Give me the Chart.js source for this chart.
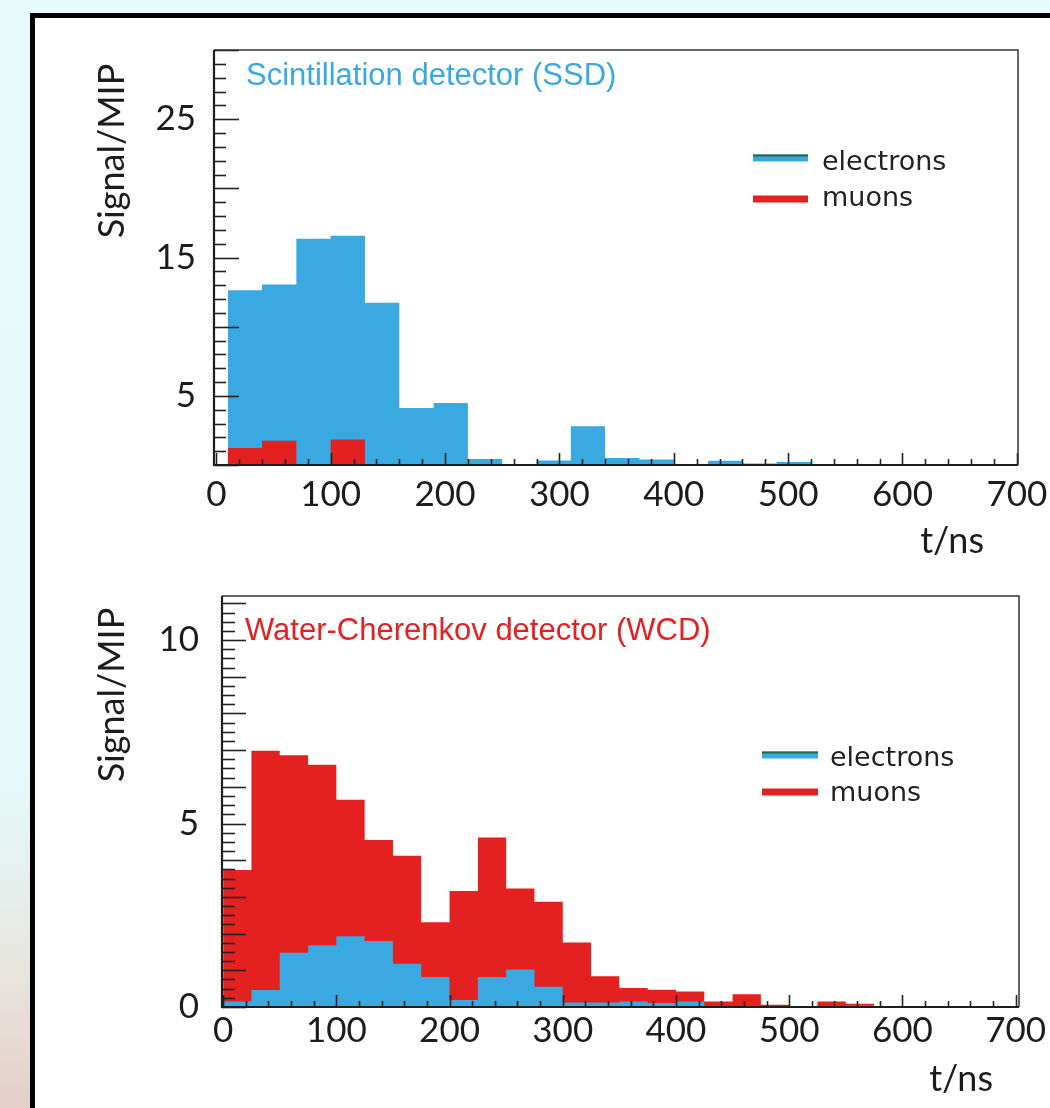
<!DOCTYPE html>
<html>
<head>
<meta charset="utf-8">
<script src="https://cdn.jsdelivr.net/npm/chart.js@4.4.1/dist/chart.umd.min.js"></script>
<style>
  html, body {
    margin: 0; padding: 0; width: 1050px; height: 1108px; overflow: hidden;
    background: linear-gradient(180deg, #e6fcfc 0%, #e5fbfb 68%, #e6f1ef 78%, #e8e4df 88%, #e5cfca 100%);
  }
  #frame {
    position: absolute; left: 30px; top: 13px; width: 1100px; height: 1200px;
    background: #fff; border-left: 5px solid #000; border-top: 5px solid #000;
  }
  canvas { position: absolute; left: 0; }
  #ssd { top: 0; }
  #wcd { top: 560px; }
</style>
</head>
<body>
<div id="frame"></div>
<canvas id="ssd" width="1050" height="560"></canvas>
<canvas id="wcd" width="1050" height="548"></canvas>
<script>
// Scintillation detector: 30 ns bins starting at 10 ns (Signal/MIP per bin)
const ssdBinStart = 10;
const ssdBinWidth = 30;
const ssdElectrons = [12.64, 13.05, 16.35, 16.57, 11.73, 4.12, 4.48, 0.43, 0, 0.33, 2.8, 0.5, 0.4, 0, 0.3, 0.1, 0.22];
const ssdMuons = [1.23, 1.76, 0, 1.85];

// Water-Cherenkov detector: 25 ns bins starting at 0 ns
const wcdBinStart = 0;
const wcdBinWidth = 25;
const wcdElectrons = [0.15, 0.46, 1.48, 1.68, 1.93, 1.80, 1.18, 0.82, 0.19, 0.82, 1.02, 0.55, 0.12, 0.12, 0.15, 0.11, 0.15, 0, 0, 0, 0, 0, 0.04];
const wcdMuons = [3.73, 6.98, 6.86, 6.60, 5.65, 4.55, 4.12, 2.31, 3.16, 4.62, 3.23, 2.87, 1.76, 0.84, 0.52, 0.47, 0.42, 0.15, 0.35, 0.06, 0, 0.15, 0.09];

// Axis tick labels
const timeTicks = [0, 100, 200, 300, 400, 500, 600, 700];
const ssdSignalTicks = [5, 15, 25];
const wcdSignalTicks = [0, 5, 10];

const seriesNames = ['electrons', 'muons'];
const electronColor = '#3aa8e1';
const muonColor = '#e32121';

// Histogram outline as left bin edges plus a closing edge
function histPoints(start, width, values) {
  const pts = values.map((v, i) => ({ x: start + i * width, y: v }));
  pts.push({ x: start + values.length * width, y: 0 });
  return pts;
}

// Inward ROOT-style tick marks and the frame around the plot area
const frameTicks = {
  id: 'frameTicks',
  afterDatasetsDraw(chart, args, o) {
    const { ctx, chartArea: a, scales: { x, y } } = chart;
    ctx.save();
    ctx.strokeStyle = '#222';
    ctx.lineWidth = 1.6;
    const isMajor = (v, m) => Math.abs(v / m - Math.round(v / m)) < 1e-6;
    for (let i = Math.ceil(x.min / o.xMinor); i * o.xMinor <= x.max + 1e-9; i++) {
      const v = i * o.xMinor;
      const px = Math.round(x.getPixelForValue(v)) + 0.5;
      const len = isMajor(v, o.xMajor) ? o.xMajorLen : o.xMinorLen;
      ctx.beginPath(); ctx.moveTo(px, a.bottom); ctx.lineTo(px, a.bottom - len); ctx.stroke();
    }
    for (let i = Math.ceil(y.min / o.yMinor); i * o.yMinor <= y.max + 1e-9; i++) {
      const v = i * o.yMinor;
      const py = Math.round(y.getPixelForValue(v)) + 0.5;
      const len = isMajor(v, o.yMajor) ? o.yMajorLen : o.yMinorLen;
      ctx.beginPath(); ctx.moveTo(a.left, py); ctx.lineTo(a.left + len, py); ctx.stroke();
    }
    // frame
    ctx.strokeStyle = '#333';
    ctx.lineWidth = 1.5;
    ctx.beginPath();
    ctx.moveTo(a.left, a.top); ctx.lineTo(a.right, a.top); ctx.lineTo(a.right, a.bottom);
    ctx.stroke();
    ctx.strokeStyle = '#1e1e1e';
    ctx.lineWidth = 2.2;
    ctx.beginPath();
    ctx.moveTo(a.left, a.top); ctx.lineTo(a.left, a.bottom); ctx.lineTo(a.right, a.bottom);
    ctx.stroke();
    ctx.restore();
  }
};

// Titles, axis captions and the legend
const panelText = {
  id: 'panelText',
  afterDraw(chart, args, o) {
    const ctx = chart.ctx;
    ctx.save();
    for (const t of o.items) {
      ctx.save();
      ctx.font = t.font;
      ctx.fillStyle = t.color;
      ctx.textAlign = t.align || 'left';
      ctx.textBaseline = t.baseline || 'alphabetic';
      ctx.translate(t.x, t.y);
      if (t.rotate) ctx.rotate(t.rotate * Math.PI / 180);
      ctx.fillText(t.text, 0, 0);
      ctx.restore();
    }
    const L = o.legend;
    const order = [0, 1].map(k => chart.data.datasets.find(d => d.label === seriesNames[k]));
    order.forEach((ds, k) => {
      const cy = L.swatchY[k];
      ctx.fillStyle = ds.backgroundColor;
      ctx.fillRect(L.swatchX, cy - L.swatchH / 2, L.swatchW, L.swatchH);
      if (ds.label === 'electrons') {
        ctx.fillStyle = '#1f6b4e';
        ctx.fillRect(L.swatchX, cy - L.swatchH / 2, L.swatchW, 2);
      }
      ctx.font = L.font;
      ctx.fillStyle = '#222';
      ctx.textAlign = 'left';
      ctx.textBaseline = 'alphabetic';
      ctx.fillText(ds.label, L.textX, L.textY[k]);
    });
    ctx.restore();
  }
};

const tickFont = { family: 'Lato', size: 35 };

function makePanel(canvas, p) {
  return new Chart(canvas, {
    type: 'line',
    data: {
      datasets: [
        {
          label: seriesNames[0],
          data: histPoints(p.binStart, p.binWidth, p.electrons),
          stepped: 'before', fill: 'origin',
          backgroundColor: electronColor, borderColor: 'transparent', borderWidth: 0,
          pointRadius: 0, order: p.electronOrder
        },
        {
          label: seriesNames[1],
          data: histPoints(p.binStart, p.binWidth, p.muons),
          stepped: 'before', fill: 'origin',
          backgroundColor: muonColor, borderColor: 'transparent', borderWidth: 0,
          pointRadius: 0, order: p.muonOrder
        }
      ]
    },
    options: {
      responsive: false,
      animation: false,
      devicePixelRatio: 1,
      layout: { padding: p.padding },
      plugins: {
        legend: { display: false },
        tooltip: { enabled: false },
        frameTicks: p.ticks,
        panelText: { items: p.texts, legend: p.legend }
      },
      scales: {
        x: {
          type: 'linear', min: p.xMin, max: p.xMax,
          afterFit: s => { s.height = p.xHeight; s.paddingLeft = 0; s.paddingRight = 0; },
          afterBuildTicks: s => { s.ticks = timeTicks.map(v => ({ value: v })); },
          grid: { display: false, drawTicks: false, tickLength: 0 },
          border: { display: false },
          ticks: { autoSkip: false, maxRotation: 0, minRotation: 0, padding: p.xPad, font: tickFont, color: '#1c1c1c' }
        },
        y: {
          type: 'linear', min: 0, max: p.yMax,
          afterFit: s => { s.width = p.yWidth; s.paddingTop = 0; s.paddingBottom = 0; },
          afterBuildTicks: s => { s.ticks = p.yTicks.map(v => ({ value: v })); },
          grid: { display: false, drawTicks: false, tickLength: 0 },
          border: { display: false },
          ticks: { autoSkip: false, padding: p.yPad, font: tickFont, color: '#1c1c1c' }
        }
      }
    },
    plugins: [frameTicks, panelText]
  });
}

const axisFont = '36px Lato';
const titleFont = '31px "Liberation Sans"';
const legendFont = '27px "DejaVu Sans"';

makePanel(document.getElementById('ssd'), {
  binStart: ssdBinStart, binWidth: ssdBinWidth,
  electrons: ssdElectrons, muons: ssdMuons,
  electronOrder: 2, muonOrder: 1,
  padding: { left: 0, top: 50, right: 32, bottom: 0 },
  xMin: -2, xMax: 701, xHeight: 95, xPad: 9,
  yMax: 30, yWidth: 214, yPad: 18, yTicks: ssdSignalTicks,
  ticks: { xMinor: 20, xMajor: 100, xMinorLen: 6, xMajorLen: 12, yMinor: 1, yMajor: 5, yMinorLen: 12, yMajorLen: 25 },
  texts: [
    { text: 'Signal/MIP', x: 112, y: 151, font: axisFont, color: '#1c1c1c', rotate: -90, align: 'center', baseline: 'middle' },
    { text: 'Scintillation detector (SSD)', x: 246, y: 85, font: titleFont, color: electronColor },
    { text: 't/ns', x: 984, y: 553, font: axisFont, color: '#1c1c1c', align: 'right' }
  ],
  legend: { swatchX: 753, swatchW: 55, swatchH: 7, swatchY: [158, 199], textX: 822, textY: [170, 206], font: legendFont }
});

makePanel(document.getElementById('wcd'), {
  binStart: wcdBinStart, binWidth: wcdBinWidth,
  electrons: wcdElectrons, muons: wcdMuons,
  electronOrder: 1, muonOrder: 2,
  padding: { left: 0, top: 36, right: 31, bottom: 0 },
  xMin: -1, xMax: 703, xHeight: 101, xPad: 3,
  yMax: 11.2, yWidth: 222, yPad: 23, yTicks: wcdSignalTicks,
  ticks: { xMinor: 20, xMajor: 100, xMinorLen: 6, xMajorLen: 12, yMinor: 0.25, yMajor: 1, yMinorLen: 13, yMajorLen: 24 },
  texts: [
    { text: 'Signal/MIP', x: 112, y: 135, font: axisFont, color: '#1c1c1c', rotate: -90, align: 'center', baseline: 'middle' },
    { text: 'Water-Cherenkov detector (WCD)', x: 245, y: 80, font: titleFont, color: muonColor },
    { text: 't/ns', x: 993, y: 531, font: axisFont, color: '#1c1c1c', align: 'right' }
  ],
  legend: { swatchX: 762, swatchW: 56, swatchH: 7, swatchY: [195, 232], textX: 830, textY: [206, 241], font: legendFont }
});
</script>
</body>
</html>
